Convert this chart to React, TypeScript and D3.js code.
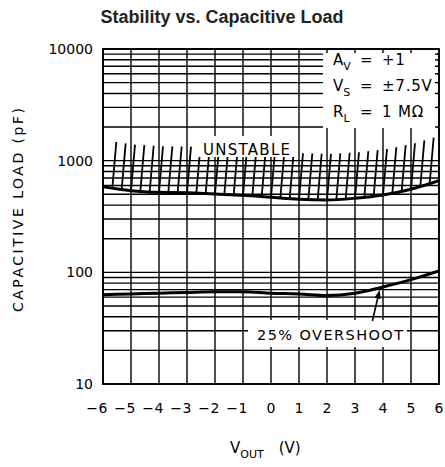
import React from "react";
import * as d3 from "d3";

const vout = [-6, -5, -4, -3, -2, -1, 0, 1, 2, 3, 4, 5, 6];
const unstableCap = [585, 539, 521, 517, 503, 490, 470, 451, 445, 461, 493, 555, 662];
const overshootCap = [63, 64, 65, 66, 67, 67, 65, 64, 62, 65, 74, 86, 103];
const xTicks = [-6, -5, -4, -3, -2, -1, 0, 1, 2, 3, 4, 5, 6];
const yTicks = [10, 100, 1000, 10000];
const legendLabels = [
  { main: "A", sub: "V", value: "+1" },
  { main: "V", sub: "S", value: "±7.5V" },
  { main: "R", sub: "L", value: "1 MΩ" },
];

const W = 445;
const H = 467;
const L = 103, R = 439, T = 49, B = 384;
const FONT = "'DejaVu Sans', sans-serif";

export default function App() {
  const x = d3.scaleLinear().domain([-6, 6]).range([L, R]);
  const y = d3.scaleLog().domain([10, 10000]).range([B, T]);

  const gridY: number[] = [];
  [10, 100, 1000].forEach((d) => {
    for (let k = 1; k <= 9; k++) gridY.push(d * k);
  });
  gridY.push(10000);

  const line = d3
    .line<[number, number]>()
    .x((d) => x(d[0]))
    .y((d) => y(d[1]))
    .curve(d3.curveMonotoneX);

  const upper = vout.map((v, i) => [v, unstableCap[i]] as [number, number]);
  const lower = vout.map((v, i) => [v, overshootCap[i]] as [number, number]);

  const logInterp = d3
    .scaleLinear()
    .domain(vout)
    .range(unstableCap.map((c) => Math.log10(c)));
  const lowInterp = d3
    .scaleLinear()
    .domain(vout)
    .range(overshootCap.map((c) => Math.log10(c)));

  const hatchX = d3.range(1, 37).map((i) => -6 + i / 3);
  const hatch = hatchX.map((v) => {
    const bx = x(v);
    const by = y(Math.pow(10, logInterp(v)));
    return { x1: bx, y1: by, x2: bx + 4, y2: by - 46 };
  });

  const arrowV = 3.88;
  const tipX = x(arrowV);
  const tipY = y(Math.pow(10, lowInterp(arrowV))) + 2;
  const baseX = x(3.62);
  const baseY = 321;
  const ang = Math.atan2(tipY - baseY, tipX - baseX);
  const ah = 9, aw = 3.2;
  const hx = tipX - ah * Math.cos(ang), hy = tipY - ah * Math.sin(ang);
  const arrowHead = [
    [tipX, tipY],
    [hx + aw * Math.sin(ang), hy - aw * Math.cos(ang)],
    [hx - aw * Math.sin(ang), hy + aw * Math.cos(ang)],
  ]
    .map((p) => p.join(","))
    .join(" ");

  // legend box
  const lgL = 323, lgR = 437, lgT = 50, lgB = 128;
  const legendGridY = gridY.filter((v) => v >= 2000);
  const legendGridX = xTicks.filter((v) => x(v) > lgL && x(v) < lgR);

  return (
    <svg width={W} height={H} style={{ display: "block", position: "absolute", left: 0, top: 0 }}>
      <rect width={W} height={H} fill="#fff" />
      <text
        x={222}
        y={23}
        textAnchor="middle"
        fontFamily="'Liberation Sans', Arial, sans-serif"
        fontWeight="bold"
        fontSize={18}
        fill="#231f20"
      >
        Stability vs. Capacitive Load
      </text>

      <defs>
        <clipPath id="plotclip">
          <rect x={L} y={T} width={R - L} height={B - T} />
        </clipPath>
      </defs>

      {/* grid */}
      <g stroke="#000" strokeWidth={1.4}>
        {gridY.map((v) => (
          <line key={"h" + v} x1={L} x2={R} y1={y(v)} y2={y(v)} />
        ))}
        {xTicks.map((v) => (
          <line key={"v" + v} x1={x(v)} x2={x(v)} y1={T} y2={B} />
        ))}
      </g>
      <rect x={L} y={T} width={R - L} height={B - T} fill="none" stroke="#000" strokeWidth={1.8} />

      {/* hatch */}
      <g clipPath="url(#plotclip)" stroke="#000" strokeWidth={1.8}>
        {hatch.map((h, i) => (
          <line key={i} x1={h.x1} y1={h.y1} x2={h.x2} y2={h.y2} />
        ))}
      </g>

      {/* curves */}
      <path d={line(upper) || ""} fill="none" stroke="#000" strokeWidth={3} clipPath="url(#plotclip)" />
      <path d={line(lower) || ""} fill="none" stroke="#000" strokeWidth={3} clipPath="url(#plotclip)" />

      {/* UNSTABLE label */}
      <rect x={192} y={136} width={106} height={21} fill="#fff" />
      <text x={203} y={155} fontFamily={FONT} fontSize={15} textLength={87} lengthAdjust="spacing" fill="#000">
        UNSTABLE
      </text>

      {/* overshoot label */}
      <rect x={248} y={320} width={159} height={27} fill="#fff" />
      <text x={257} y={340} fontFamily={FONT} fontSize={14.5} textLength={146} lengthAdjust="spacing" fill="#000">
        25% OVERSHOOT
      </text>
      <line x1={baseX} y1={baseY} x2={hx} y2={hy} stroke="#000" strokeWidth={1.6} />
      <polygon points={arrowHead} fill="#000" />

      {/* legend box */}
      <rect x={lgL} y={lgT} width={lgR - lgL} height={lgB - lgT} fill="#fff" />
      <g stroke="#000" strokeWidth={1.4}>
        {legendGridX.map((v) => (
          <line key={"lx" + v} x1={x(v)} x2={x(v)} y1={T} y2={T + 4} />
        ))}
        {legendGridY.map((v) => (
          <line key={"ly" + v} x1={R - 4} x2={R} y1={y(v)} y2={y(v)} />
        ))}
      </g>
      {legendLabels.map((d, i) => {
        const by = 65 + i * 26;
        return (
          <g key={i} fontFamily={FONT} fill="#000">
            <text x={333} y={by} fontSize={15}>
              {d.main}
              <tspan fontSize={11} dy={5}>
                {d.sub}
              </tspan>
            </text>
            <text x={360} y={by} fontSize={15}>
              =
            </text>
            <text x={382} y={by} fontSize={15} letterSpacing={0.8}>
              {d.value}
            </text>
          </g>
        );
      })}

      {/* y tick labels */}
      {yTicks.map((v) => (
        <text
          key={"yt" + v}
          x={93}
          y={y(v) + 5}
          textAnchor="end"
          fontFamily={FONT}
          fontSize={14}
          fill="#000"
        >
          {v}
        </text>
      ))}

      {/* x tick labels */}
      {xTicks.map((v) => (
        <g key={"xt" + v} fontFamily={FONT} fontSize={14} fill="#000">
          <text x={x(v)} y={413} textAnchor="middle">
            {Math.abs(v)}
          </text>
          {v < 0 && (
            <text x={x(v) - 5} y={413} textAnchor="end">
              −
            </text>
          )}
        </g>
      ))}

      {/* axis titles */}
      <text
        transform="translate(23,210) rotate(-90)"
        textAnchor="middle"
        fontFamily={FONT}
        fontSize={14}
        textLength={204}
        lengthAdjust="spacing"
        fill="#000"
      >
        CAPACITIVE LOAD (pF)
      </text>
      <text x={230} y={453} fontFamily={FONT} fontSize={15} fill="#000">
        V
        <tspan fontSize={11} dy={5}>
          OUT
        </tspan>
        <tspan fontSize={15} dy={-5} dx={15}>
          (V)
        </tspan>
      </text>
    </svg>
  );
}
